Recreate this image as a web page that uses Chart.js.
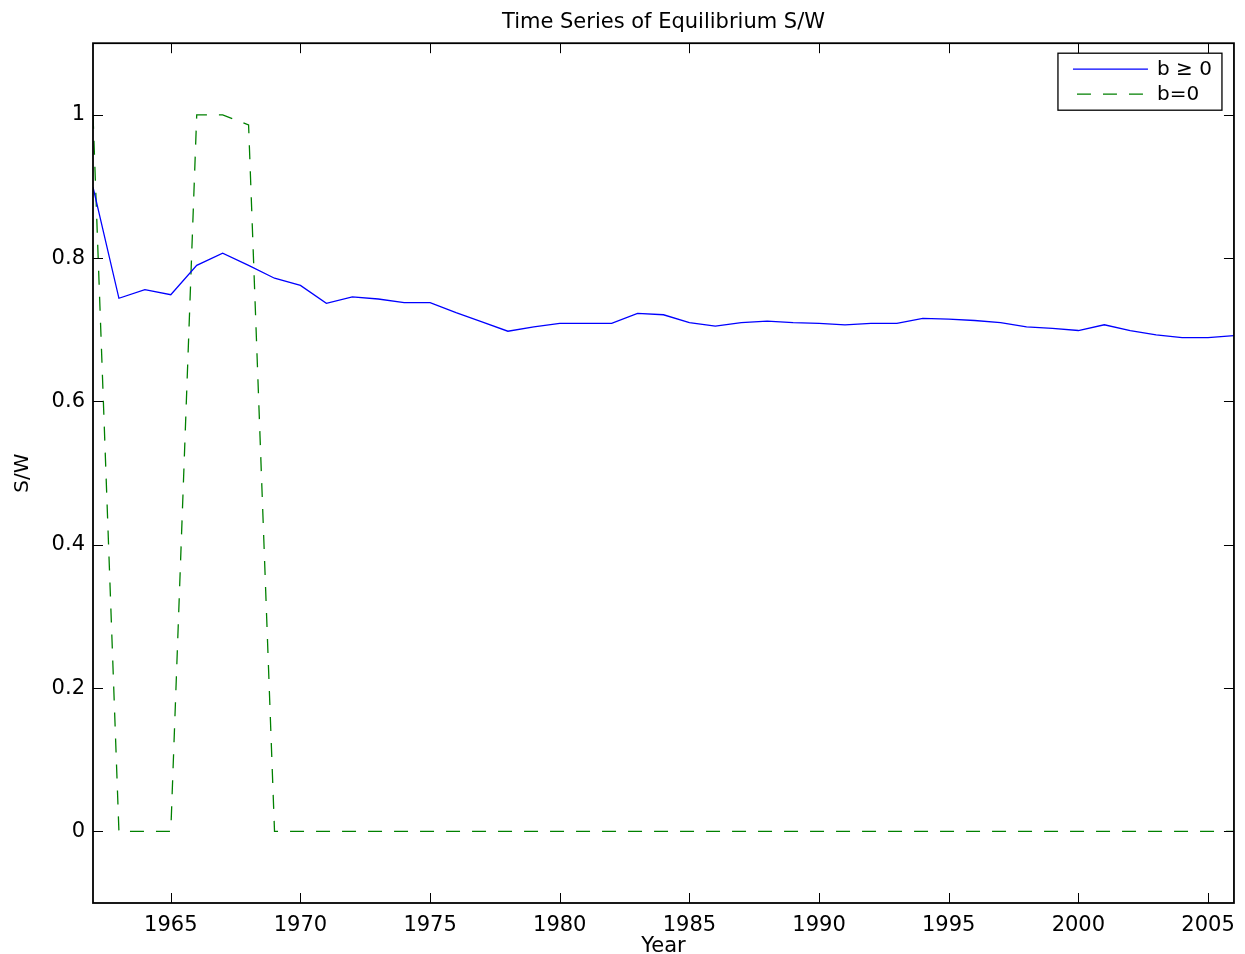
<!DOCTYPE html>
<html>
<head>
<meta charset="utf-8">
<script src="https://cdn.jsdelivr.net/npm/chart.js@4/dist/chart.umd.min.js"></script>
<style>
  html, body { margin: 0; padding: 0; background: #fff; }
  #wrap { width: 1245px; height: 954px; }
</style>
</head>
<body>
<div id="wrap"><canvas id="c" width="1245" height="954"></canvas></div>
<script>
const years = [1962,1963,1964,1965,1966,1967,1968,1969,1970,1971,1972,1973,1974,1975,1976,1977,1978,1979,1980,1981,1982,1983,1984,1985,1986,1987,1988,1989,1990,1991,1992,1993,1994,1995,1996,1997,1998,1999,2000,2001,2002,2003,2004,2005,2006];
const seriesBge0 = [0.899,0.744,0.756,0.749,0.790,0.807,0.790,0.772,0.762,0.737,0.746,0.743,0.738,0.738,0.724,0.711,0.698,0.704,0.709,0.709,0.709,0.723,0.721,0.710,0.705,0.710,0.712,0.710,0.709,0.707,0.709,0.709,0.716,0.715,0.713,0.710,0.704,0.702,0.699,0.707,0.699,0.693,0.689,0.689,0.692];
const seriesB0 = [1,0,0,0,1,1,0.986,0,0,0,0,0,0,0,0,0,0,0,0,0,0,0,0,0,0,0,0,0,0,0,0,0,0,0,0,0,0,0,0,0,0,0,0,0,0];
const xTickValues = [1965,1970,1975,1980,1985,1990,1995,2000,2005];
const yTickValues = [0,0.2,0.4,0.6,0.8,1];
const seriesLabels = ['b \u2265 0', 'b=0'];
const titleText = 'Time Series of Equilibrium S/W';
const xTitle = 'Year';
const yTitle = 'S/W';

const FONT = 'DejaVu Sans';

const boxPlugin = {
  id: 'matlabBox',
  afterDatasetsDraw(chart) {
    const {ctx, chartArea: a, scales} = chart;
    ctx.save();
    ctx.strokeStyle = '#000';
    ctx.lineWidth = 1;
    const tl = 10;
    ctx.beginPath();
    xTickValues.forEach(v => {
      const x = Math.round(scales.x.getPixelForValue(v)) + 0.5;
      ctx.moveTo(x, a.bottom); ctx.lineTo(x, a.bottom - tl);
      ctx.moveTo(x, a.top); ctx.lineTo(x, a.top + tl);
    });
    yTickValues.forEach(v => {
      const y = Math.round(scales.y.getPixelForValue(v)) + 0.5;
      ctx.moveTo(a.left, y); ctx.lineTo(a.left + tl, y);
      ctx.moveTo(a.right, y); ctx.lineTo(a.right - tl, y);
    });
    ctx.stroke();
    ctx.lineWidth = 1.8;
    ctx.strokeRect(a.left, a.top, a.right - a.left, a.bottom - a.top);

    // legend inside plot, top-right
    const lw = 164, lh = 57;
    const lx = a.right - 12 - lw, ly = a.top + 10;
    ctx.fillStyle = '#fff';
    ctx.fillRect(lx, ly, lw, lh);
    ctx.lineWidth = 1.3;
    ctx.strokeStyle = '#000';
    ctx.strokeRect(lx, ly, lw, lh);
    chart.data.datasets.forEach((ds, i) => {
      const yy = ly + 16 + i * 25;
      ctx.beginPath();
      ctx.strokeStyle = ds.borderColor;
      ctx.lineWidth = ds.borderWidth;
      ctx.setLineDash(ds.borderDash || []);
      ctx.lineDashOffset = ds.borderDash ? -4 : 0;
      ctx.moveTo(lx + 15, yy); ctx.lineTo(lx + 90, yy);
      ctx.stroke();
      ctx.setLineDash([]);
      ctx.fillStyle = '#000';
      ctx.font = '20px "' + FONT + '"';
      ctx.textBaseline = 'middle';
      ctx.textAlign = 'left';
      ctx.fillText(ds.label, lx + 99, yy + 1);
    });
    ctx.restore();
  }
};

new Chart(document.getElementById('c'), {
  type: 'line',
  data: {
    datasets: [
      {
        label: seriesLabels[0],
        data: years.map((y, i) => ({x: y, y: seriesBge0[i]})),
        borderColor: '#0000ff',
        borderWidth: 1.3,
        pointRadius: 0,
        tension: 0,
        fill: false
      },
      {
        label: seriesLabels[1],
        data: years.map((y, i) => ({x: y, y: seriesB0[i]})),
        borderColor: '#008000',
        borderWidth: 1.3,
        borderDash: [14, 12],
        pointRadius: 0,
        tension: 0,
        fill: false
      }
    ]
  },
  options: {
    responsive: false,
    animation: false,
    devicePixelRatio: 1,
    layout: { padding: { left: 0, right: 11, top: 0, bottom: 0 } },
    plugins: {
      legend: { display: false },
      tooltip: { enabled: false },
      title: {
        display: true,
        fullSize: false,
        text: titleText,
        color: '#000',
        font: { family: FONT, size: 21, weight: 'normal', lineHeight: 1.2 },
        padding: { top: 10, bottom: 8 }
      }
    },
    scales: {
      x: {
        type: 'linear',
        min: 1962,
        max: 2006,
        afterBuildTicks: (s) => { s.ticks = xTickValues.map(v => ({value: v})); },
        afterFit: (s) => { s.height = 51; },
        grid: { display: false, drawTicks: false },
        border: { display: false },
        ticks: {
          color: '#000',
          font: { family: FONT, size: 21 },
          padding: 10,
          maxRotation: 0,
          autoSkip: false,
          callback: (v) => String(v)
        },
        title: {
          display: true,
          text: xTitle,
          color: '#000',
          font: { family: FONT, size: 21, lineHeight: 0.75 },
          padding: { top: 0, bottom: 0 }
        }
      },
      y: {
        type: 'linear',
        min: -0.1,
        max: 1.1,
        afterBuildTicks: (s) => { s.ticks = yTickValues.map(v => ({value: v})); },
        afterFit: (s) => { s.width = 93; },
        grid: { display: false, drawTicks: false },
        border: { display: false },
        ticks: {
          color: '#000',
          font: { family: FONT, size: 21 },
          padding: 8,
          autoSkip: false,
          callback: (v) => String(Math.round(v * 10) / 10)
        },
        title: {
          display: true,
          text: yTitle,
          color: '#000',
          font: { family: FONT, size: 20, lineHeight: 1.2 },
          padding: { top: 11, bottom: 0 }
        }
      }
    }
  },
  plugins: [boxPlugin]
});
</script>
</body>
</html>
